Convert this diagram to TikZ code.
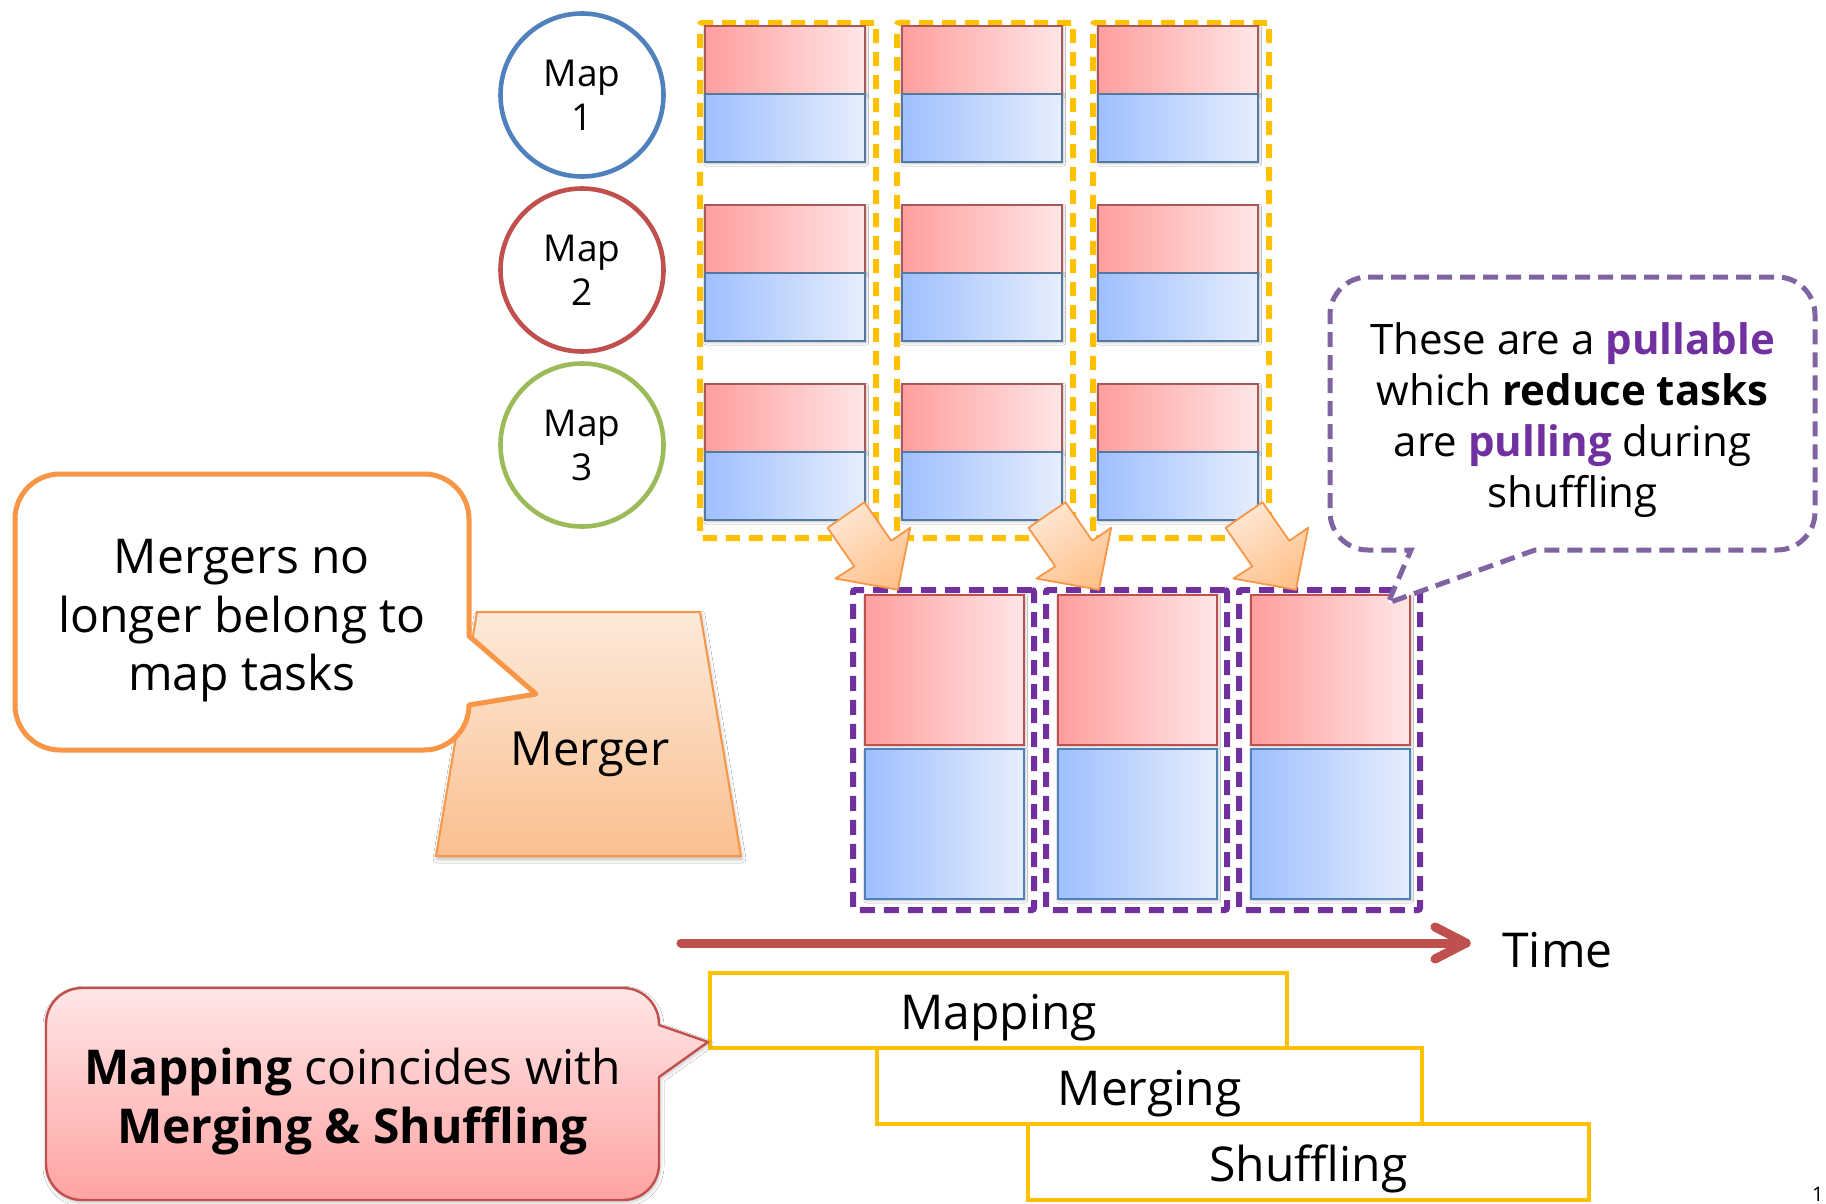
\documentclass[tikz,border=0pt]{standalone}
\usepackage{fontspec}
\setmainfont{Open Sans}
\usetikzlibrary{shadows.blur}

\definecolor{mapblue}{HTML}{4F81BD}
\definecolor{mapred}{HTML}{C0504D}
\definecolor{mapgreen}{HTML}{9BBB59}
\definecolor{gold}{HTML}{FFC000}
\definecolor{deeppurple}{HTML}{7030A0}
\definecolor{softpurple}{HTML}{8064A2}
\definecolor{peach}{HTML}{F79646}
\definecolor{redL}{HTML}{FF9E9E}
\definecolor{redR}{HTML}{FFE6E6}
\definecolor{blueL}{HTML}{9FBFFF}
\definecolor{blueR}{HTML}{E6EEFC}
\definecolor{redEdge}{HTML}{A85858}
\definecolor{blueEdge}{HTML}{55789F}
\definecolor{arrowL}{HTML}{FFE6D2}
\definecolor{arrowD}{HTML}{FFC28C}
\definecolor{mergeT}{HTML}{FDEADA}
\definecolor{mergeB}{HTML}{FABF8F}
\definecolor{noteT}{HTML}{FFE6E6}
\definecolor{noteB}{HTML}{FFA3A3}

\begin{document}
\begin{tikzpicture}[x=0.5pt, y=0.5pt,
  softshadow/.style={blur shadow={shadow xshift=0.6pt, shadow yshift=-0.8pt,
      shadow blur radius=1.2pt, shadow opacity=28}},
  redpart/.style={draw=redEdge, line width=1.1pt, left color=redL, right color=redR,
      inner sep=0pt, outer sep=0pt, anchor=north west, softshadow},
  bluepart/.style={draw=blueEdge, line width=1.1pt, left color=blueL, right color=blueR,
      inner sep=0pt, outer sep=0pt, anchor=north west, softshadow},
  colbox/.style={draw=gold, line width=3pt, dash pattern=on 7pt off 4.5pt,
      inner sep=0pt, anchor=north west, rounded corners=1pt},
  pullbox/.style={draw=deeppurple, line width=3pt, dash pattern=on 7.5pt off 4.5pt,
      inner sep=0pt, anchor=north west, rounded corners=1pt},
  maptask/.style={circle, line width=2.3pt, minimum size=81.5pt, inner sep=0pt,
      align=center, font=\fontsize{18.5pt}{22pt}\selectfont},
  blockarrow/.style={draw=peach, line width=0.9pt, line join=round,
      top color=arrowL, bottom color=arrowD, shading angle=35},
  phase/.style={draw=gold, line width=2.3pt, fill=white, inner sep=0pt,
      text height=19pt, text depth=0pt, font=\fontsize{24pt}{28pt}\selectfont},
  timeline/.style={draw=mapred, line width=4.5pt, line cap=round, line join=round},
]
\useasboundingbox (0,0) rectangle (1826,-1204);
\fill[white] (0,0) rectangle (1826,-1204);

% map output: three spill columns, each holding one partition pair per map task
\foreach \c/\x in {1/705,2/902,3/1098}{
  \node[colbox, minimum width=88pt, minimum height=257.5pt] (col\c) at ({\x-8},-20) {};
  \foreach \r/\y in {1/26,2/205,3/384}{
    \node[redpart, minimum width=80pt, minimum height=34pt] (seg\c\r) at (\x,-\y) {};
    \node[bluepart, minimum width=80pt, minimum height=34pt] (sub\c\r) at (\x,{-\y-68}) {};
  }
}

% merged, pullable partitions
\foreach \c/\x in {1/865,2/1058,3/1251}{
  \node[pullbox, minimum width=90.5pt, minimum height=160pt] (pull\c) at ({\x-15},-587) {};
  \node[redpart, draw=mapred, minimum width=79.5pt, minimum height=75pt] (pr\c) at (\x,-595) {};
  \node[bluepart, draw=mapblue, minimum width=79.5pt, minimum height=75pt] (pb\c) at (\x,-749) {};
}

% block arrows from each column to its merged partition
\foreach \dx in {0,201,398}{
  \begin{scope}[shift={(\dx,0)}]
    \path[blockarrow] (827.5,-527.8) -- (864.5,-502.2) -- (891.3,-540.8) -- (910.2,-527.7)
      -- (897.9,-589.8) -- (835.4,-578.5) -- (854.3,-566.4) -- cycle;
  \end{scope}
}

% map tasks
\node[maptask, draw=mapblue]  (map1) at (582,-95)  {Map\\1};
\node[maptask, draw=mapred]   (map2) at (582,-270) {Map\\2};
\node[maptask, draw=mapgreen] (map3) at (582,-445) {Map\\3};

% note on the pullable partitions
\draw[softpurple, line width=2.5pt, dash pattern=on 7.5pt off 4pt, fill=white]
  (1368,-277) -- (1777,-277) arc[start angle=90, end angle=0, radius=38]
  -- (1815,-512) arc[start angle=0, end angle=-90, radius=38]
  -- (1535,-550) -- (1388,-603) -- (1411,-550)
  -- (1368,-550) arc[start angle=-90, end angle=-180, radius=38]
  -- (1330,-315) arc[start angle=180, end angle=90, radius=38] -- cycle;
\node[anchor=north, align=center, inner sep=0pt,
      font=\fontsize{21pt}{25.5pt}\selectfont] (pullnote) at (1572.5,-322)
  {These are a \textbf{\color{deeppurple}pullable}\\
   which \textbf{reduce tasks}\\
   are \textbf{\color{deeppurple}pulling} during\\
   shuffling};

% merger
\path[draw=peach, line width=1pt, top color=mergeT, bottom color=mergeB,
      blur shadow={shadow xshift=0.5pt, shadow yshift=-1.5pt, shadow blur radius=2pt, shadow opacity=30}]
  (477,-612) -- (700,-612) -- (741,-856) -- (436,-856) -- cycle;
\node[anchor=base, inner sep=0pt, font=\fontsize{23.5pt}{28pt}\selectfont] (merger) at (590,-765) {Merger};

% note on the mergers
\draw[peach, line width=2.5pt, line join=round, fill=white]
  (60,-474) -- (424,-474) arc[start angle=90, end angle=0, radius=45]
  -- (469,-636) -- (536,-694) -- (469,-705)
  arc[start angle=0, end angle=-90, radius=45]
  -- (60,-750) arc[start angle=-90, end angle=-180, radius=45]
  -- (15,-519) arc[start angle=180, end angle=90, radius=45] -- cycle;
\node[anchor=north, align=center, inner sep=0pt,
      font=\fontsize{24pt}{29.25pt}\selectfont] (mergenote) at (242,-539)
  {Mergers no\\longer belong to\\map tasks};

% time axis
\coordinate (tstart) at (681,-943);
\coordinate (tend) at (1466,-943);
\begin{scope}[shift={(2,-5)}]
  \draw[timeline, draw=black!30, opacity=0.5] (tstart) -- (tend);
  \draw[timeline, draw=black!30, opacity=0.5] (tend) ++(-31,16) -- (tend) -- ++(-31,-16);
\end{scope}
\draw[timeline] (tstart) -- (tend);
\draw[timeline] (tend) ++(-31,16) -- (tend) -- ++(-31,-16);
\node[anchor=base west, inner sep=0pt, font=\fontsize{24pt}{28pt}\selectfont] (time) at (1502,-967) {Time};

% overlapping phases
\node[phase, minimum width=288.5pt, minimum height=37.5pt] (mapping) at (998.5,-1010.5) {Mapping};
\node[phase, minimum width=272.5pt, minimum height=38pt] (merging) at (1149.5,-1086) {Merging};
\node[phase, minimum width=280.5pt, minimum height=38pt] (shuffling) at (1308.5,-1162) {Shuffling};

% note on the overlap
\path[draw=mapred, line width=1.2pt, line join=round, top color=noteT, bottom color=noteB,
      blur shadow={shadow xshift=0.5pt, shadow yshift=-1.2pt, shadow blur radius=2pt, shadow opacity=25}]
  (82,-988) -- (623,-988) arc[start angle=90, end angle=0, radius=36]
  -- (659,-1025) -- (708,-1042) -- (659,-1077)
  -- (659,-1164) arc[start angle=0, end angle=-90, radius=36]
  -- (82,-1200) arc[start angle=-90, end angle=-180, radius=36]
  -- (46,-1024) arc[start angle=180, end angle=90, radius=36] -- cycle;
\node[anchor=north, align=center, inner sep=0pt,
      font=\fontsize{24pt}{29.5pt}\selectfont] (overlapnote) at (352.5,-1048)
  {\textbf{Mapping} coincides with\\\textbf{Merging \& Shuffling}};

% slide number in the corner
\node[anchor=south east, inner sep=0pt, font=\fontsize{10pt}{12pt}\selectfont] (pagenum) at (1824,-1202) {1};
\end{tikzpicture}
\end{document}
